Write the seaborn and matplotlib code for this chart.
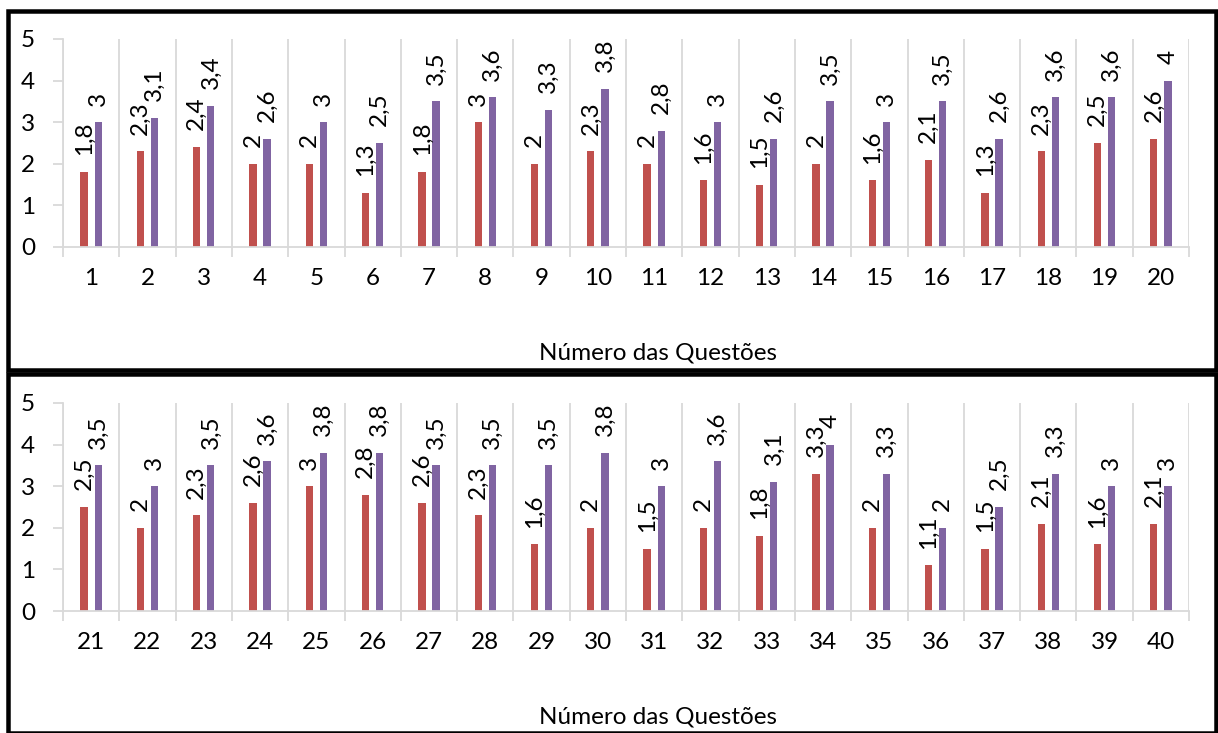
import numpy as np
import pandas as pd
import matplotlib
matplotlib.use("Agg")
import matplotlib.pyplot as plt
from matplotlib.patches import Rectangle
from matplotlib.ticker import FixedLocator
import seaborn as sns

# Question numbers for the two panels
questions_top = [str(i) for i in range(1, 21)]
questions_bottom = [str(i) for i in range(21, 41)]

# Scores per question (two series)
serie1_top = [1.8, 2.3, 2.4, 2.0, 2.0, 1.3, 1.8, 3.0, 2.0, 2.3,
              2.0, 1.6, 1.5, 2.0, 1.6, 2.1, 1.3, 2.3, 2.5, 2.6]
serie2_top = [3.0, 3.1, 3.4, 2.6, 3.0, 2.5, 3.5, 3.6, 3.3, 3.8,
              2.8, 3.0, 2.6, 3.5, 3.0, 3.5, 2.6, 3.6, 3.6, 4.0]
serie1_bottom = [2.5, 2.0, 2.3, 2.6, 3.0, 2.8, 2.6, 2.3, 1.6, 2.0,
                 1.5, 2.0, 1.8, 3.3, 2.0, 1.1, 1.5, 2.1, 1.6, 2.1]
serie2_bottom = [3.5, 3.0, 3.5, 3.6, 3.8, 3.8, 3.5, 3.5, 3.5, 3.8,
                 3.0, 3.6, 3.1, 4.0, 3.3, 2.0, 2.5, 3.3, 3.0, 3.0]

series_names = ["Série 1", "Série 2"]
y_ticks = [0, 1, 2, 3, 4, 5]
x_title = "Número das Questões"

RED = "#C0504D"
PURPLE = "#8064A2"
GRID = "#D9D9D9"
FS = 17.5

sns.set_style("white")
plt.rcParams["font.family"] = ["Lato", "DejaVu Sans"]

W, H = 1218, 733
fig = plt.figure(figsize=(W / 100, H / 100), dpi=100)


def px_axes(left, top, right, bottom):
    return fig.add_axes([left / W, 1 - bottom / H, (right - left) / W, (bottom - top) / H])


def fmt(v):
    return f"{v:g}".replace(".", ",")


def draw_panel(ax, questions, s1, s2):
    n = len(questions)
    df = pd.DataFrame({
        "Questão": questions * 2,
        "Série": [series_names[0]] * n + [series_names[1]] * n,
        "Valor": s1 + s2,
    })
    sns.barplot(data=df, x="Questão", y="Valor", hue="Série", order=questions,
                hue_order=series_names, palette=[RED, PURPLE], saturation=1,
                width=0.5, gap=0.48, errorbar=None, legend=False, ax=ax,
                linewidth=0, edgecolor="none")
    for cont, vals in zip(ax.containers, [s1, s2]):
        ax.bar_label(cont, labels=[fmt(v) for v in vals], padding=12,
                     rotation=90, fontsize=FS, color="black")

    ax.set_xlim(-0.5, n - 0.5)
    ax.set_ylim(0, 5)
    ax.set_yticks(y_ticks)
    ax.xaxis.set_minor_locator(FixedLocator(np.arange(-0.5, n, 1.0)))
    ax.set_axisbelow(True)
    ax.grid(False)
    ax.grid(True, which="minor", axis="x", color=GRID, lw=1.3)

    ax.tick_params(axis="x", which="major", length=0, pad=15,
                   labelsize=FS, labelcolor="black")
    ax.tick_params(axis="x", which="minor", length=7, width=1.3,
                   color=GRID, direction="out", bottom=True)
    ax.tick_params(axis="y", length=7, width=1.3, color=GRID, pad=13,
                   labelsize=FS, labelcolor="black", direction="out", left=True)

    for side in ["top", "right"]:
        ax.spines[side].set_visible(False)
    for side in ["left", "bottom"]:
        ax.spines[side].set_color(GRID)
        ax.spines[side].set_linewidth(1.3)

    ax.set_ylabel("")
    ax.set_xlabel(x_title, fontsize=17.5, color="black")
    ax.xaxis.set_label_coords(0.528, -0.51)
    ax.xaxis.label.set_va("center")


ax_top = px_axes(63, 39, 1189, 247)
ax_bottom = px_axes(63, 403, 1189, 611)
draw_panel(ax_top, questions_top, serie1_top, serie2_top)
draw_panel(ax_bottom, questions_bottom, serie1_bottom, serie2_bottom)

# Black frames around each panel
lw = 4.5 * 72 / 100
for (x0, y0, x1, y1) in [(7.5, 10.5, 1215.5, 370), (7.5, 374, 1215.5, 733)]:
    fig.add_artist(Rectangle((x0 / W, 1 - y1 / H), (x1 - x0) / W, (y1 - y0) / H,
                             transform=fig.transFigure, fill=False,
                             edgecolor="black", linewidth=lw))

fig.savefig("out.png", dpi=100)
